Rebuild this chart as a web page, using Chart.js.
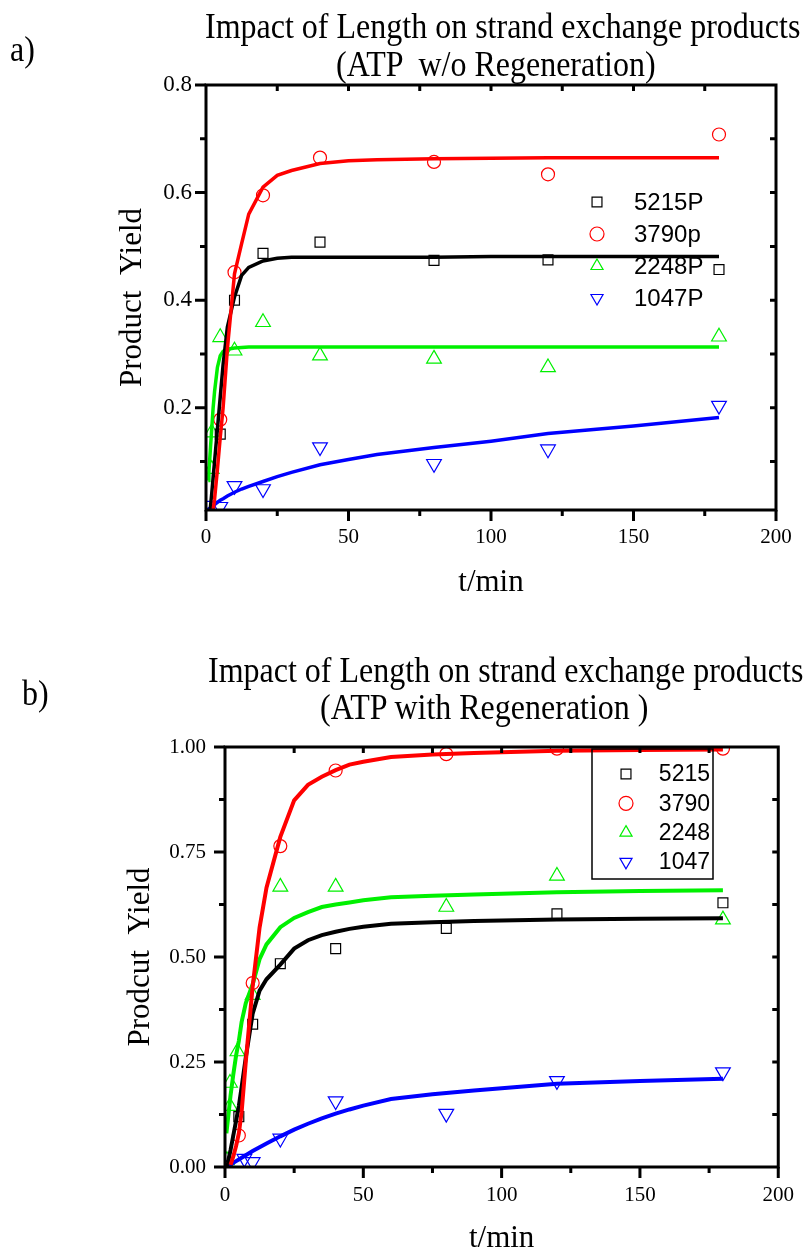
<!DOCTYPE html>
<html>
<head>
<meta charset="utf-8">
<script src="https://cdn.jsdelivr.net/npm/chart.js@4/dist/chart.umd.min.js"></script>
<style>
  body { margin: 0; background: #fff; width: 810px; height: 1251px; overflow: hidden; position: relative; }
  canvas { position: absolute; left: 0; }
  .t { position: absolute; white-space: pre; font-family: "Liberation Serif", serif; font-size: 32px; line-height: 32px; color: #000;
       transform-origin: 0 27px; transform: scaleY(1.15); }
</style>
</head>
<body>
<canvas id="chartA" width="810" height="620" style="top:0"></canvas>
<canvas id="chartB" width="810" height="660" style="top:620px"></canvas>

<div class="t" style="left:205px;top:11px">Impact of Length on strand exchange products</div>
<div class="t" style="left:336px;top:49px">(ATP  w/o Regeneration)</div>
<div class="t" style="left:10px;top:34px">a)</div>
<div class="t" style="left:208px;top:655px">Impact of Length on strand exchange products</div>
<div class="t" style="left:320px;top:692px">(ATP with Regeneration )</div>
<div class="t" style="left:22px;top:678px">b)</div>

<script>
// ---- shared axis ticks ----
const xTicks = [0, 50, 100, 150, 200];
const xTickText = ['0', '50', '100', '150', '200'];

// ---- a) ATP w/o regeneration : measured points ----
const a5215T = [5, 10, 20, 40, 80, 120, 180];
const a5215Y = [0.151, 0.400, 0.487, 0.508, 0.474, 0.475, 0.457];
const a3790T = [5, 10, 20, 40, 80, 120, 180];
const a3790Y = [0.178, 0.452, 0.595, 0.665, 0.657, 0.634, 0.708];
const a2248T = [2, 2, 5, 10, 20, 40, 80, 120, 180];
const a2248Y = [0.086, 0.154, 0.331, 0.306, 0.359, 0.297, 0.291, 0.275, 0.332];
const a1047T = [1.5, 5, 10, 20, 40, 80, 120, 180];
const a1047Y = [0.018, 0.016, 0.055, 0.049, 0.127, 0.096, 0.123, 0.204];

// ---- a) fitted curves ----
const aFitT    = [0.8, 1, 1.5, 2, 2.5, 3, 4, 5, 6, 7.5, 10, 12.5, 15, 20, 25, 30, 40, 50, 60, 80, 100, 120, 150, 180];
const aFit5215 = [null, null, 0.012, 0.04, 0.07, 0.10, 0.16, 0.22, 0.28, 0.35, 0.406, 0.446, 0.461, 0.473, 0.478, 0.480, 0.480, 0.480, 0.480, 0.480, 0.481, 0.481, 0.481, 0.481];
const aFit3790 = [null, null, null, null, 0.01, 0.03, 0.085, 0.145, 0.20, 0.31, 0.449, 0.505, 0.56, 0.61, 0.632, 0.641, 0.654, 0.659, 0.661, 0.663, 0.664, 0.665, 0.665, 0.665];
const aFit2248 = [0.065, 0.08, 0.12, 0.16, 0.20, 0.23, 0.275, 0.297, 0.305, 0.309, 0.311, 0.312, 0.313, 0.313, 0.313, 0.313, 0.313, 0.313, 0.313, 0.313, 0.313, 0.313, 0.313, 0.313];
const aFit1047 = [0.011, 0.012, 0.014, 0.016, 0.018, 0.02, 0.024, 0.028, 0.031, 0.036, 0.043, 0.049, 0.054, 0.063, 0.072, 0.080, 0.094, 0.104, 0.113, 0.126, 0.138, 0.152, 0.166, 0.182];

const aYTicks = [0.2, 0.4, 0.6, 0.8];
const aYTickText = ['0.2', '0.4', '0.6', '0.8'];
const aLegend = ['5215P', '3790p', '2248P', '1047P'];

// ---- b) ATP with regeneration : measured points ----
const b5215T = [5, 10, 20, 40, 80, 120, 180];
const b5215Y = [0.120, 0.340, 0.484, 0.520, 0.568, 0.603, 0.629];
const b3790T = [5, 10, 20, 40, 80, 120, 180];
const b3790Y = [0.075, 0.438, 0.764, 0.944, 0.983, 0.996, 0.996];
const b2248T = [0.7, 1.8, 1.8, 4.5, 10, 20, 40, 80, 120, 180];
const b2248Y = [0.016, 0.145, 0.200, 0.275, 0.409, 0.667, 0.667, 0.619, 0.693, 0.589];
const b1047T = [1, 7, 10, 20, 40, 80, 120, 180];
const b1047Y = [0.005, 0.020, 0.012, 0.068, 0.157, 0.127, 0.205, 0.226];

// ---- b) fitted curves ----
const bFitT    = [0.5, 1, 2, 3, 4, 5, 6, 7.5, 10, 12.5, 15, 20, 25, 30, 35, 40, 45, 50, 60, 75, 90, 120, 150, 180];
const bFit5215 = [0.0, 0.01, 0.04, 0.075, 0.11, 0.145, 0.19, 0.26, 0.365, 0.42, 0.447, 0.482, 0.52, 0.54, 0.552, 0.56, 0.567, 0.572, 0.579, 0.583, 0.586, 0.589, 0.591, 0.592];
const bFit3790 = [null, null, 0.005, 0.025, 0.05, 0.08, 0.13, 0.25, 0.43, 0.57, 0.665, 0.786, 0.873, 0.91, 0.929, 0.945, 0.958, 0.965, 0.976, 0.982, 0.986, 0.991, 0.993, 0.994];
const bFit2248 = [0.08, 0.11, 0.17, 0.22, 0.265, 0.30, 0.345, 0.39, 0.435, 0.495, 0.53, 0.571, 0.593, 0.607, 0.619, 0.625, 0.63, 0.635, 0.642, 0.646, 0.649, 0.654, 0.657, 0.659];
const bFit1047 = [0.0, 0.002, 0.006, 0.01, 0.014, 0.018, 0.022, 0.028, 0.038, 0.047, 0.056, 0.073, 0.089, 0.103, 0.116, 0.127, 0.137, 0.146, 0.162, 0.173, 0.182, 0.198, 0.205, 0.210];

const bYTicks = [0, 0.25, 0.5, 0.75, 1.0];
const bYTickText = ['0.00', '0.25', '0.50', '0.75', '1.00'];
const bLegend = ['5215', '3790', '2248', '1047'];

const RED = '#ff0000', BLACK = '#000000', GREEN = '#00f000', BLUE = '#0000ff';
const SERIF = 'Liberation Serif';
const SANS = 'Liberation Sans';

function pts(t, y) {
  const out = [];
  t.forEach((x, i) => { if (y[i] !== null) out.push({ x: x, y: y[i] }); });
  return out;
}

function fitSet(t, y, color, w) {
  return { type: 'line', data: pts(t, y), borderColor: color, borderWidth: w,
           pointRadius: 0, fill: false, tension: 0, order: 1 };
}

function dotSet(label, t, y, color, style, r, rot) {
  return { type: 'scatter', label: label, data: pts(t, y), pointStyle: style,
           pointRadius: r, pointHoverRadius: r, pointRotation: rot,
           borderColor: color, backgroundColor: 'rgba(0,0,0,0)', borderWidth: 1.2, order: 2 };
}

// frame round the plot plus inner/outer tick marks
const framePlugin = {
  id: 'frame',
  afterDatasetsDraw(chart, args, o) {
    const { ctx, chartArea: a, scales: { x, y } } = chart;
    ctx.save();
    ctx.strokeStyle = '#000';
    ctx.lineWidth = 3;
    ctx.strokeRect(a.left, a.top, a.right - a.left, a.bottom - a.top);
    ctx.beginPath();
    for (let v = 0; v <= 200; v += 25) {
      const px = x.getPixelForValue(v);
      const major = v % 50 === 0;
      ctx.moveTo(px, a.bottom);
      ctx.lineTo(px, a.bottom + (major ? 11 : 6));
      if (v > 0 && v < 200) {
        ctx.moveTo(px, a.top);
        ctx.lineTo(px, a.top + 6);
      }
    }
    for (let i = 0; ; i++) {
      const v = o.yFrom + i * o.yStep;
      if (v > y.max + 1e-9) break;
      const py = y.getPixelForValue(v);
      const major = (i % 2) === o.majorParity;
      ctx.moveTo(a.left - (major ? 11 : 6), py);
      ctx.lineTo(a.left, py);
      if (py > a.top + 2 && py < a.bottom - 2) {
        ctx.moveTo(a.right - 6, py);
        ctx.lineTo(a.right, py);
      }
    }
    ctx.stroke();
    ctx.restore();
  }
};

// legend drawn inside the plot area
const boxLegend = {
  id: 'boxLegend',
  afterDraw(chart, args, o) {
    const ctx = chart.ctx;
    const sets = chart.data.datasets.filter(d => d.type === 'scatter');
    ctx.save();
    if (o.box) {
      ctx.strokeStyle = '#000';
      ctx.lineWidth = 1.5;
      ctx.strokeRect(o.box[0], o.box[1], o.box[2], o.box[3]);
    }
    ctx.font = o.size + 'px "' + SANS + '"';
    ctx.textBaseline = 'middle';
    ctx.textAlign = o.align;
    sets.forEach((d, i) => {
      const yy = o.y0 + i * o.dy;
      ctx.strokeStyle = d.borderColor;
      ctx.fillStyle = 'rgba(0,0,0,0)';
      ctx.lineWidth = 1.2;
      Chart.helpers.drawPoint(ctx, { pointStyle: d.pointStyle, radius: o.r, rotation: d.pointRotation, borderWidth: 1.2 }, o.mx, yy);
      ctx.fillStyle = '#000';
      ctx.fillText(d.label, o.tx, yy + 1);
    });
    ctx.restore();
  }
};

function makeChart(id, sets, yMin, yMax, yTicks, yTickText, yTitle, geo, frame, legend) {
  return new Chart(document.getElementById(id), {
    type: 'scatter',
    data: { datasets: sets },
    options: {
      responsive: false,
      animation: false,
      layout: { padding: { left: 0, right: geo.right, top: geo.top, bottom: 0 } },
      plugins: { legend: { display: false }, tooltip: { enabled: false }, frame: frame, boxLegend: legend },
      scales: {
        x: {
          type: 'linear', min: 0, max: 200,
          afterBuildTicks: s => { s.ticks = xTicks.map(v => ({ value: v })); },
          afterFit: s => { s.height = geo.xh; },
          grid: { display: false, drawTicks: false },
          border: { display: false },
          ticks: { color: '#000', font: { family: SERIF, size: 21 }, padding: geo.xpad, maxRotation: 0, autoSkip: false,
                   callback: (v, i) => xTickText[i] },
          title: { display: true, text: 't/min', color: '#000', font: { family: SERIF, size: 31 },
                   padding: { top: 0, bottom: geo.xtitle } }
        },
        y: {
          type: 'linear', min: yMin, max: yMax,
          afterBuildTicks: s => { s.ticks = yTicks.map(v => ({ value: v })); },
          afterFit: s => { s.width = geo.yw; },
          grid: { display: false, drawTicks: false },
          border: { display: false },
          ticks: { color: '#000', font: { family: SERIF, size: geo.yfont }, padding: geo.ypad,
                   callback: (v, i) => yTickText[i] },
          title: { display: true, text: yTitle, color: '#000', font: { family: SERIF, size: 31 },
                   padding: { top: geo.ytitle, bottom: 0 } }
        }
      }
    },
    plugins: [framePlugin, boxLegend]
  });
}

makeChart('chartA', [
    fitSet(aFitT, aFit3790, RED, 3.5),
    fitSet(aFitT, aFit5215, BLACK, 3.5),
    fitSet(aFitT, aFit2248, GREEN, 3.5),
    fitSet(aFitT, aFit1047, BLUE, 3.5),
    dotSet(aLegend[0], a5215T, a5215Y, BLACK, 'rect', 7, 0),
    dotSet(aLegend[1], a3790T, a3790Y, RED, 'circle', 6.5, 0),
    dotSet(aLegend[2], a2248T, a2248Y, GREEN, 'triangle', 8.5, 0),
    dotSet(aLegend[3], a1047T, a1047Y, BLUE, 'triangle', 8.5, 180)
  ], 0.01, 0.8, aYTicks, aYTickText, 'Product  Yield',
  { right: 34, top: 85, xh: 110, xpad: 15, xtitle: 19, yw: 206, ypad: 14, yfont: 23, ytitle: 114 },
  { yFrom: 0.1, yStep: 0.1, majorParity: 1 },
  { mx: 597, tx: 634, align: 'left', y0: 202, dy: 32, size: 24, r: 7, box: null });

makeChart('chartB', [
    fitSet(bFitT, bFit3790, RED, 4),
    fitSet(bFitT, bFit2248, GREEN, 4),
    fitSet(bFitT, bFit5215, BLACK, 4),
    fitSet(bFitT, bFit1047, BLUE, 4),
    dotSet(bLegend[0], b5215T, b5215Y, BLACK, 'rect', 7, 0),
    dotSet(bLegend[1], b3790T, b3790Y, RED, 'circle', 6.5, 0),
    dotSet(bLegend[2], b2248T, b2248Y, GREEN, 'triangle', 8.5, 0),
    dotSet(bLegend[3], b1047T, b1047Y, BLUE, 'triangle', 8.5, 180)
  ], 0, 1.0, bYTicks, bYTickText, 'Prodcut  Yield',
  { right: 25, top: 127, xh: 113, xpad: 16, xtitle: 23, yw: 225, ypad: 19, yfont: 21, ytitle: 122 },
  { yFrom: 0, yStep: 0.125, majorParity: 0 },
  { mx: 626, tx: 710, align: 'right', y0: 154, dy: 29.3, size: 23, r: 7, box: [592, 129, 121, 130] });
</script>
</body>
</html>
